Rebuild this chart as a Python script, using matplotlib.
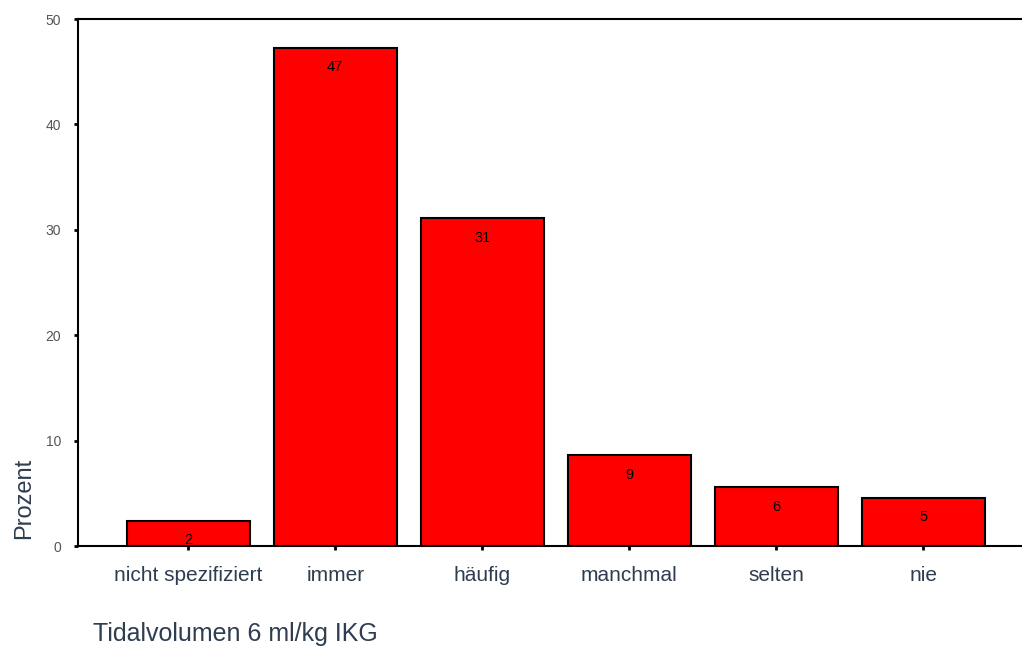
import numpy as np
import matplotlib.pyplot as plt

plt.rcParams['font.family'] = ['Liberation Sans', 'DejaVu Sans']

# Antworthaeufigkeit: Tidalvolumen 6 ml/kg IKG
categories = ['nicht spezifiziert', 'immer', 'häufig', 'manchmal', 'selten', 'nie']
percent = [2.4, 47.3, 31.1, 8.6, 5.6, 4.6]
yticks = [0, 10, 20, 30, 40, 50]

text_col = '#2e3d4f'

fig = plt.figure(figsize=(10.22, 6.47), dpi=100)
ax = fig.add_axes([0.0763, 0.156, 0.935, 0.8145])

x = np.arange(len(categories))
bars = ax.bar(x, percent, width=0.837, color='#ff0000', edgecolor='black', linewidth=1.5)

# Werte gerundet in die Balken schreiben
for b, v in zip(bars, percent):
    ax.annotate(f'{int(v + 0.5)}', (b.get_x() + b.get_width() / 2, v),
                xytext=(0, -9), textcoords='offset points',
                ha='center', va='top', fontsize=10.5, color='black')

ax.set_xlim(-0.75, 5.75)
ax.set_ylim(0, 50)
ax.set_yticks(yticks)
ax.set_xticks(x)
ax.set_xticklabels(categories, fontsize=15, color=text_col)
ax.tick_params(axis='x', length=3, width=2, pad=11)
ax.tick_params(axis='y', length=3, width=2, labelsize=10, labelcolor='#555555', pad=9)

for side in ['left', 'top', 'bottom']:
    ax.spines[side].set_linewidth(1.5)
ax.spines['right'].set_visible(False)

ax.set_xlabel('Tidalvolumen 6 ml/kg IKG', fontsize=18, color=text_col)
ax.xaxis.set_label_coords(0.016, -0.145)
ax.xaxis.label.set_horizontalalignment('left')
ax.set_ylabel('Prozent', fontsize=17, color=text_col)
ax.yaxis.set_label_coords(-0.045, 0.09)

fig.savefig('out.png', dpi=100)
